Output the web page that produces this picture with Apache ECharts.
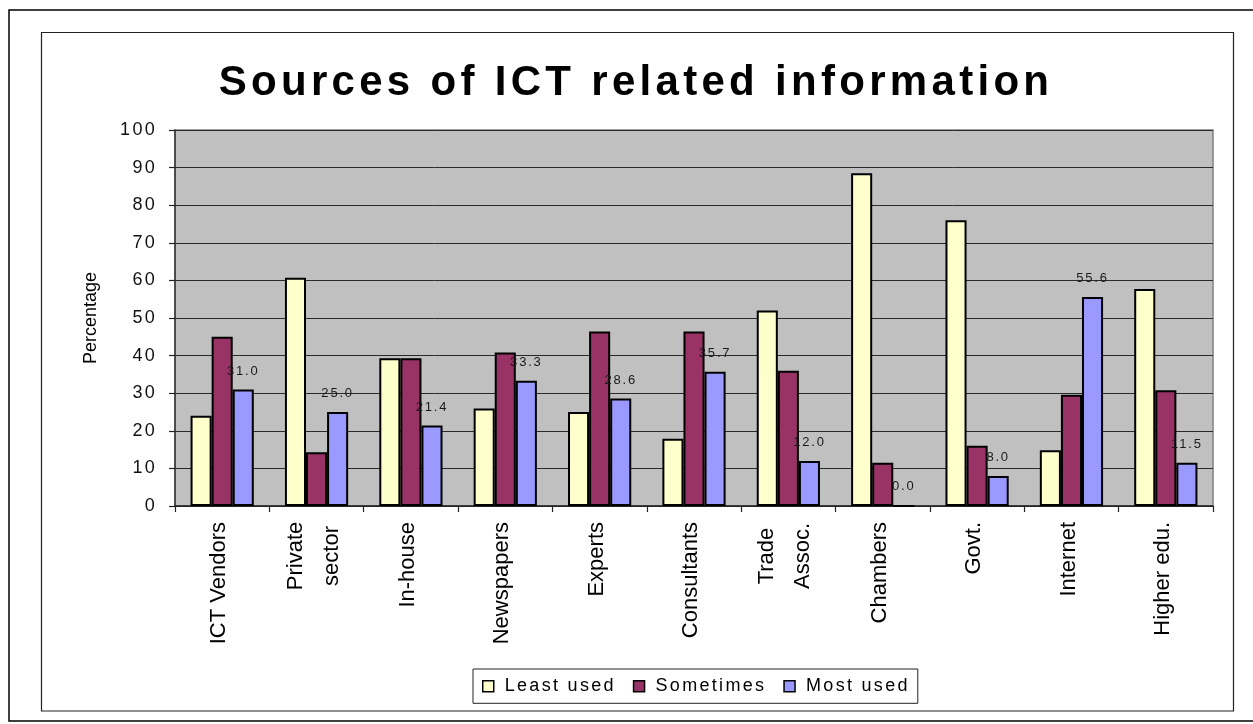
<!DOCTYPE html>
<html>
<head>
<meta charset="utf-8">
<title>Sources of ICT related information</title>
<script src="https://cdn.jsdelivr.net/npm/echarts@6/dist/echarts.min.js"></script>
<style>
  html, body { margin: 0; padding: 0; background: #ffffff; }
  #chart { width: 1253px; height: 724px; }
</style>
</head>
<body>
<div id="chart"></div>
<script>
// ---- data -------------------------------------------------------------
const categories = ['ICT Vendors', 'Private\nsector', 'In-house', 'Newspapers', 'Experts',
  'Consultants', 'Trade\nAssoc.', 'Chambers', 'Govt.', 'Internet', 'Higher edu.'];
const seriesNames = ['Least used', 'Sometimes', 'Most used'];
const leastUsed = [24.0, 60.7, 39.3, 25.9, 25.0, 17.9, 52.0, 88.5, 76.0, 14.8, 57.7];
const sometimes = [45.0, 14.3, 39.3, 40.8, 46.4, 46.4, 36.0, 11.5, 16.0, 29.6, 30.8];
const mostUsed  = [31.0, 25.0, 21.4, 33.3, 28.6, 35.7, 12.0, 0.0, 8.0, 55.6, 11.5];
const yMin = 0, yMax = 100, yStep = 10;
const titleText = 'Sources of ICT related information';
const yAxisTitle = 'Percentage';

// ---- spreadsheet-style tracking --------------------------------------
// Text set in "Arial" gets extra letter spacing (keyed by font size);
// text set in "Liberation Sans" keeps normal spacing.
const TRACKING = { 42: 4.3, 18: 2.3, 13: 1.8 };
(function () {
  const proto = CanvasRenderingContext2D.prototype;
  if (!('letterSpacing' in proto)) return;
  function track(ctx) {
    const m = /(\d+(?:\.\d+)?)px\s+(.+)$/.exec(ctx.font);
    let ls = 0;
    if (m && /Arial/.test(m[2])) ls = TRACKING[Math.round(parseFloat(m[1]))] || 0;
    ctx.letterSpacing = ls + 'px';
  }
  const fill = proto.fillText, measure = proto.measureText;
  proto.fillText = function () { track(this); return fill.apply(this, arguments); };
  proto.measureText = function () { track(this); return measure.apply(this, arguments); };
})();

// ---- chart ------------------------------------------------------------
const colors = ['#FFFFCC', '#993366', '#9999FF'];
const values = [leastUsed, sometimes, mostUsed];

const chart = echarts.init(document.getElementById('chart'), null, { renderer: 'canvas' });

const series = seriesNames.map((name, i) => ({
  name,
  type: 'bar',
  data: values[i],
  barGap: '0%',
  barCategoryGap: '33%',
  itemStyle: { color: colors[i], borderColor: '#000', borderWidth: 2 },
  emphasis: { disabled: true },
  label: i === 2 ? {
    show: true,
    position: 'top',
    distance: 11,
    formatter: p => Number(p.value).toFixed(1),
    fontFamily: 'Arial',
    fontSize: 13,
    color: '#1a1a1a'
  } : { show: false }
}));

// Two-line category names: each line centred within a common block.
const formatCategory = v => v.indexOf('\n') < 0 ? v
  : v.split('\n').map(s => '{c|' + s + '}').join('\n');

chart.setOption({
  animation: false,
  backgroundColor: '#ffffff',
  title: {
    text: titleText,
    left: 636,
    top: 60,
    padding: 0,
    textAlign: 'center',
    textStyle: { fontFamily: 'Arial', fontWeight: 'bold', fontSize: 42, color: '#000' }
  },
  graphic: [
    { type: 'rect', z: 100, silent: true,
      shape: { x: 9, y: 10, width: 1300, height: 711 },
      style: { fill: null, stroke: '#000', lineWidth: 1.5 } },
    { type: 'rect', z: 100, silent: true,
      shape: { x: 41.5, y: 32.5, width: 1192, height: 678.5 },
      style: { fill: null, stroke: '#222', lineWidth: 1.2 } }
  ],
  legend: {
    data: seriesNames,
    left: 473,
    top: 669,
    orient: 'horizontal',
    padding: [7, 8, 7, 9],
    itemGap: 17,
    itemWidth: 11,
    itemHeight: 11,
    icon: 'rect',
    borderColor: '#222',
    borderWidth: 1,
    itemStyle: { borderColor: '#000', borderWidth: 1.5 },
    textStyle: { fontFamily: 'Arial', fontSize: 18, color: '#000', padding: [0, 0, 0, 6] },
    selectedMode: false
  },
  grid: {
    left: 175, right: 40, top: 130, bottom: 218,
    show: true,
    backgroundColor: '#C0C0C0',
    borderColor: '#808080',
    borderWidth: 1.5
  },
  xAxis: {
    type: 'category',
    data: categories,
    axisLine: { show: true, lineStyle: { color: '#222', width: 1.5 } },
    axisTick: { show: true, length: 6, interval: 0, lineStyle: { color: '#222', width: 1.2 } },
    axisLabel: {
      interval: 0, rotate: 90, margin: 16,
      padding: [0, 0, 6, 0],
      fontFamily: 'Liberation Sans', fontSize: 22, color: '#000',
      formatter: formatCategory,
      rich: {
        c: { width: 68, align: 'center', lineHeight: 36,
             fontFamily: 'Liberation Sans', fontSize: 22, color: '#000' }
      }
    },
    splitLine: { show: false }
  },
  yAxis: {
    type: 'value',
    min: yMin, max: yMax, interval: yStep,
    name: yAxisTitle,
    nameLocation: 'middle',
    nameGap: 75,
    nameRotate: 90,
    nameTextStyle: { fontFamily: 'Liberation Sans', fontSize: 18, color: '#000' },
    axisLine: { show: true, lineStyle: { color: '#333', width: 1.5 } },
    axisTick: { show: true, length: 6, lineStyle: { color: '#222', width: 1.2 } },
    axisLabel: { margin: 18, fontFamily: 'Arial', fontSize: 18, color: '#111' },
    splitLine: { show: true, lineStyle: { color: '#2a2a2a', width: 1 } }
  },
  series
});
</script>
</body>
</html>
